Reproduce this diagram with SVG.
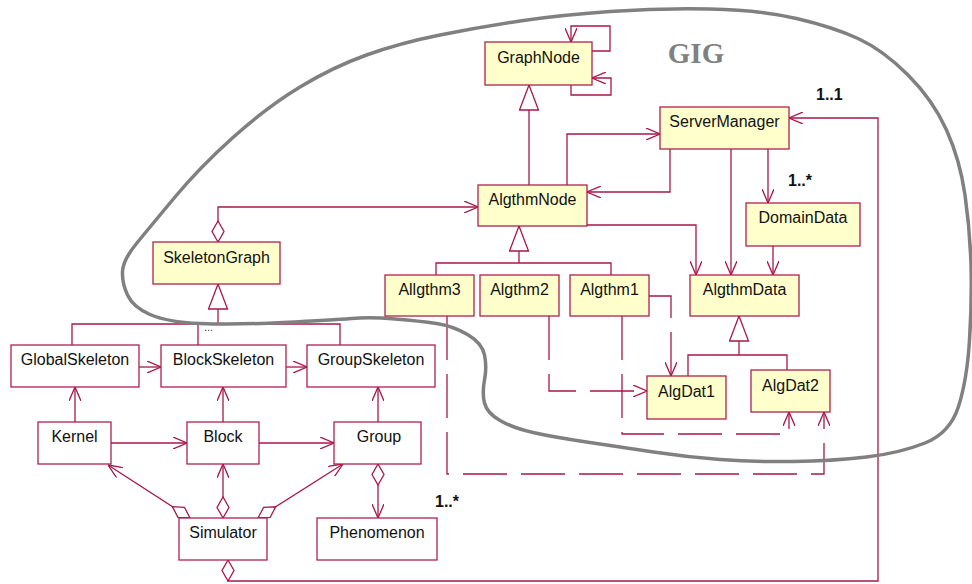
<svg xmlns="http://www.w3.org/2000/svg" width="972" height="584" viewBox="0 0 972 584">
<style>
.c{fill:none;stroke:#a8174a;stroke-width:1.3}
.d{stroke-dasharray:44 14}
.y{fill:#ffffcc;stroke:#b0204f;stroke-width:1.3}
.w{fill:#ffffff;stroke:#b0204f;stroke-width:1.3}
.t{font-family:"Liberation Sans",Arial,sans-serif;font-size:16px;fill:#111;text-anchor:middle}
.m{font-family:"Liberation Sans",Arial,sans-serif;font-size:16px;font-weight:bold;fill:#111}
</style>
<defs>
<marker id="arr" markerUnits="userSpaceOnUse" viewBox="0 0 14 12" markerWidth="14" markerHeight="12" refX="14" refY="6" orient="auto"><path d="M0,0 L14,6 L0,12" fill="none" stroke="#a8174a" stroke-width="1.3"/></marker>
<marker id="tri" markerUnits="userSpaceOnUse" viewBox="-1 -1 27 21" markerWidth="27" markerHeight="21" refX="25" refY="9.5" orient="auto"><path d="M0,0 L25,9.5 L0,19 Z" fill="#fff" stroke="#a8174a" stroke-width="1.3"/></marker>
<marker id="dia" markerUnits="userSpaceOnUse" viewBox="-1 -1 23 14" markerWidth="23" markerHeight="14" refX="0" refY="6" orient="auto"><path d="M0,6 L10.5,0 L21,6 L10.5,12 Z" fill="#fff" stroke="#a8174a" stroke-width="1.3"/></marker>
</defs>
<rect width="972" height="584" fill="#fff"/>
<g id="connectors">
<path class="c" d="M592,51 H610 V26 H571 V42" marker-end="url(#arr)"/>
<path class="c" d="M571,85 V95 H611 V78 H592" marker-end="url(#arr)"/>
<path class="c" d="M529,185 V85" marker-end="url(#tri)"/>
<path class="c" d="M567,185 V134 H660" marker-end="url(#arr)"/>
<path class="c" d="M670,149 V192 H587" marker-end="url(#arr)"/>
<path class="c" d="M218,242 V207 H478" marker-start="url(#dia)" marker-end="url(#arr)"/>
<path class="c" d="M587,225 H696 V275" marker-end="url(#arr)"/>
<path class="c" d="M731,149 V275" marker-end="url(#arr)"/>
<path class="c" d="M768,149 V203" marker-end="url(#arr)"/>
<path class="c" d="M773,246 V275" marker-end="url(#arr)"/>
<path class="c" d="M519,263 V226" marker-end="url(#tri)"/>
<path class="c" d="M436,275 V263 H611 V275"/>
<path class="c d" d="M649,296 H671 V376" marker-end="url(#arr)"/>
<path class="c d" d="M549,316 V391 H647" marker-end="url(#arr)"/>
<path class="c d" d="M622,316 V434 H789 V412" marker-end="url(#arr)"/>
<path class="c d" d="M447,316 V474 H824 V412" marker-end="url(#arr)"/>
<path class="c" d="M739,355 V316" marker-end="url(#tri)"/>
<path class="c" d="M688,376 V355 H787 V370"/>
<path class="c" d="M218,324 V284" marker-end="url(#tri)"/>
<path class="c" d="M72,345 V324 H340 V345 M198,324 V345"/>
<path class="c" d="M139,367 H161" marker-end="url(#arr)"/>
<path class="c" d="M286,367 H307" marker-end="url(#arr)"/>
<path class="c" d="M75,422 V387" marker-end="url(#arr)"/>
<path class="c" d="M223,422 V387" marker-end="url(#arr)"/>
<path class="c" d="M378,422 V387" marker-end="url(#arr)"/>
<path class="c" d="M111,443 H187" marker-end="url(#arr)"/>
<path class="c" d="M259,443 H334" marker-end="url(#arr)"/>
<path class="c" d="M190,518 L108,465" marker-start="url(#dia)" marker-end="url(#arr)"/>
<path class="c" d="M223,518 V464" marker-start="url(#dia)" marker-end="url(#arr)"/>
<path class="c" d="M258,518 L343,464" marker-start="url(#dia)" marker-end="url(#arr)"/>
<path class="c" d="M378,464 V518" marker-start="url(#dia)" marker-end="url(#arr)"/>
<path class="c" d="M228,560 V581 H878 V118 H789" marker-start="url(#dia)" marker-end="url(#arr)"/>
</g>
<g id="GIG">
<path d="M520,21 Q560,15 610,11.5 Q660,8 710,9 Q760,10 796.5,18.5 Q833,27 858,38.5 Q883,50 908,75 Q933,100 946.5,130 Q960,160 965,195 Q970,230 971,265 Q972,300 969.5,340 Q967,380 958.5,406.5 Q950,433 925,443 Q900,453 866.5,457 Q833,461 793,461.5 Q753,462 720,459.5 Q687,457 653.5,452 Q620,447 586.5,442 Q553,437 533,432.5 Q513,428 500,420.5 Q487,413 484.5,403 Q482,393 484.5,380 Q487,367 484.5,355 Q482,343 467.5,334.5 Q453,326 436.5,323.5 Q420,321 395,319 Q370,317 351.5,318.5 Q333,320 283,322.5 Q233,325 200,323.5 Q167,322 150,314.5 Q133,307 127.5,295 Q122,283 122.5,271.5 Q123,260 136.5,243.5 Q150,227 175,197 Q200,167 233.5,137 Q267,107 300,87 Q333,67 366.5,55 Q400,43 440,35 Q480,27 520,21 Z" fill="none" stroke="#808080" stroke-width="3.5"/>
<text x="696" y="63" font-family="'Liberation Serif','Times New Roman',serif" font-size="29" font-weight="bold" fill="#808080" text-anchor="middle">GIG</text>
</g>
<g id="labels">
<text class="m" x="816" y="100">1..1</text>
<text class="m" x="788" y="186">1..*</text>
<text class="m" x="435" y="507">1..*</text>
<text x="204" y="331" font-family="'Liberation Sans',sans-serif" font-size="11" fill="#333">...</text>
</g>
<g id="GraphNode"><rect class="y" x="485" y="42" width="107" height="43"/><text class="t" x="538.5" y="63">GraphNode</text></g>
<g id="ServerManager"><rect class="y" x="660" y="107" width="129" height="42"/><text class="t" x="724.5" y="127">ServerManager</text></g>
<g id="AlgthmNode"><rect class="y" x="478" y="185" width="109" height="41"/><text class="t" x="532.5" y="205">AlgthmNode</text></g>
<g id="DomainData"><rect class="y" x="746" y="203" width="114" height="43"/><text class="t" x="803" y="223">DomainData</text></g>
<g id="SkeletonGraph"><rect class="y" x="153" y="242" width="127" height="42"/><text class="t" x="216.5" y="263">SkeletonGraph</text></g>
<g id="AlgthmData"><rect class="y" x="690" y="275" width="109" height="41"/><text class="t" x="744.5" y="295">AlgthmData</text></g>
<g id="Allgthm3"><rect class="y" x="385" y="275" width="89" height="41"/><text class="t" x="429.5" y="295">Allgthm3</text></g>
<g id="Algthm2"><rect class="y" x="480" y="275" width="79" height="41"/><text class="t" x="519.5" y="295">Algthm2</text></g>
<g id="Algthm1"><rect class="y" x="570" y="275" width="79" height="41"/><text class="t" x="609.5" y="295">Algthm1</text></g>
<g id="AlgDat1"><rect class="y" x="647" y="376" width="79" height="43"/><text class="t" x="686.5" y="397">AlgDat1</text></g>
<g id="AlgDat2"><rect class="y" x="751" y="370" width="79" height="42"/><text class="t" x="790.5" y="391">AlgDat2</text></g>
<g id="GlobalSkeleton"><rect class="w" x="11" y="345" width="128" height="42"/><text class="t" x="75" y="365">GlobalSkeleton</text></g>
<g id="BlockSkeleton"><rect class="w" x="161" y="345" width="125" height="42"/><text class="t" x="223.5" y="365">BlockSkeleton</text></g>
<g id="GroupSkeleton"><rect class="w" x="307" y="345" width="128" height="42"/><text class="t" x="371" y="365">GroupSkeleton</text></g>
<g id="Kernel"><rect class="w" x="38" y="422" width="73" height="42"/><text class="t" x="74.5" y="442">Kernel</text></g>
<g id="Block"><rect class="w" x="187" y="422" width="72" height="42"/><text class="t" x="223" y="442">Block</text></g>
<g id="Group"><rect class="w" x="334" y="422" width="87" height="42"/><text class="t" x="379" y="442">Group</text></g>
<g id="Simulator"><rect class="w" x="179" y="518" width="88" height="42"/><text class="t" x="223" y="538">Simulator</text></g>
<g id="Phenomenon"><rect class="w" x="317" y="518" width="120" height="42"/><text class="t" x="377" y="538">Phenomenon</text></g>
</svg>
